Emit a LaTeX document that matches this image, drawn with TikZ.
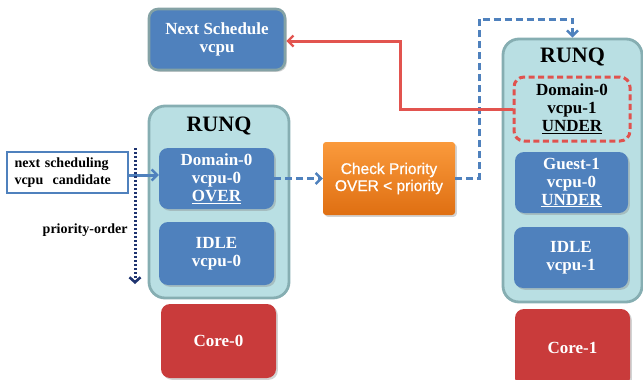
\documentclass[tikz,border=0pt]{standalone}
\usepackage{fontspec}
\setmainfont{Liberation Serif}
\newfontfamily\chkfont[FakeBold=0.9]{Liberation Sans}
\usetikzlibrary{arrows.meta,shadows,calc}

\definecolor{vblue}{HTML}{4F81BD}
\definecolor{qfill}{HTML}{B9DFE3}
\definecolor{qborder}{HTML}{86AEB2}
\definecolor{corered}{HTML}{C93B3B}
\definecolor{linered}{HTML}{E2544F}
\definecolor{dashred}{HTML}{E0524E}
\definecolor{orangetop}{HTML}{FA9A3C}
\definecolor{orangebot}{HTML}{DF6F12}
\definecolor{navy}{HTML}{1F3470}

\tikzset{
  boxshadow/.style={drop shadow={opacity=0.35,shadow xshift=1.8pt,shadow yshift=-1.8pt}},
  vcpubox/.style={fill=vblue,rounded corners=9pt,boxshadow,text=white,
    font=\fontsize{17}{18}\selectfont\bfseries,align=center,inner sep=0pt},
  runq/.style={fill=qfill,draw=qborder,line width=2.8pt,rounded corners=16pt,inner sep=0pt},
  qtitle/.style={font=\fontsize{22}{24}\selectfont\bfseries,text=black},
  corebox/.style={fill=corered,rounded corners=9pt,boxshadow,text=white,
    font=\fontsize{17}{18}\selectfont\bfseries,inner sep=0pt},
  barb/.style={-{Straight Barb[length=5.5pt,width=11pt,line width=2.4pt]}},
  blueflow/.style={draw=vblue,line width=3pt,dash pattern=on 7pt off 4pt,barb},
  bluesolid/.style={draw=vblue,line width=3pt,barb},
  redflow/.style={draw=linered,line width=3pt,barb},
}

\begin{document}
\begin{tikzpicture}[x=1pt,y=-1pt]
\useasboundingbox (0,0) rectangle (643,380);

% run queues
\node[runq,minimum width=140pt,minimum height=192pt] (rq0) at (219,202) {};
\node[runq,minimum width=139pt,minimum height=263pt] (rq1) at (572.5,170.5) {};
\node[qtitle] (t0) at (219,126) {RUNQ};
\node[qtitle] (t1) at (572.5,57) {RUNQ};

% entries of core 0
\node[vcpubox,minimum width=115pt,minimum height=61pt] (dom0) at (216.5,178.5)
  {Domain-0\\vcpu-0\\\underline{OVER}};
\node[vcpubox,minimum width=115pt,minimum height=63pt] (idle0) at (216.5,253.5)
  {IDLE\\vcpu-0};
\node[corebox,minimum width=115pt,minimum height=74pt] (core0) at (218.5,341) {Core-0};

% entries of core 1
\node[draw=dashred,line width=3pt,dash pattern=on 6pt off 3.5pt,rounded corners=10pt,
  minimum width=116pt,minimum height=64pt,inner sep=0pt,align=center,
  font=\fontsize{17}{18}\selectfont\bfseries] (dom1) at (572,109)
  {Domain-0\\vcpu-1\\\underline{UNDER}};
\node[vcpubox,minimum width=113pt,minimum height=61pt] (guest) at (571.5,182.5)
  {Guest-1\\vcpu-0\\\underline{UNDER}};
\node[vcpubox,minimum width=114pt,minimum height=61pt] (idle1) at (571,257.5)
  {IDLE\\vcpu-1};
\node[corebox,minimum width=115pt,minimum height=78pt] (core1) at (572.5,348) {Core-1};

% next vcpu to run
\node[vcpubox,draw=qborder!75!gray,line width=2.6pt,minimum width=136pt,minimum height=61pt]
  (next) at (217,39.5) {Next Schedule\\vcpu};

% priority check
\node[top color=orangetop,bottom color=orangebot,rounded corners=3pt,boxshadow,
  minimum width=132pt,minimum height=73pt,inner sep=0pt,text=white,align=center,
  font=\chkfont\fontsize{15.5}{17}\selectfont] (chk) at (389,178.5)
  {Check Priority\\OVER {<} priority};

% candidate pointer
\node[draw=vblue,line width=2.8pt,fill=white,minimum width=121pt,minimum height=41pt,
  inner sep=0pt,text width=106pt,align=left,
  font=\fontsize{14}{16.5}\selectfont\bfseries] (cand) at (67.5,172.5)
  {next scheduling\\vcpu\ \ candidate};
\draw[bluesolid] ([yshift=-2.5pt]cand.east) -- ([yshift=-2.5pt]cand.east -| dom0.west);

% priority order
\coordinate (po1) at (135,148);
\coordinate (po2) at (135,284);
\draw[navy,line width=3pt,dash pattern=on 2.2pt off 1.8pt,
  -{Straight Barb[length=5pt,width=11pt,line width=2.6pt]}] (po1) -- (po2);
\node[anchor=east,font=\fontsize{14}{16}\selectfont\bfseries] (po) at (131,230)
  {priority-order};

% flow
\draw[blueflow] (dom0.east) -- (chk.west);
\coordinate (up) at (479,19);
\draw[blueflow] (chk.east) -| (up) -| (rq1.north);
\coordinate (bend) at (400,41);
\draw[redflow] (dom1.west) -| (bend) -- (bend -| next.east);
\end{tikzpicture}
\end{document}
